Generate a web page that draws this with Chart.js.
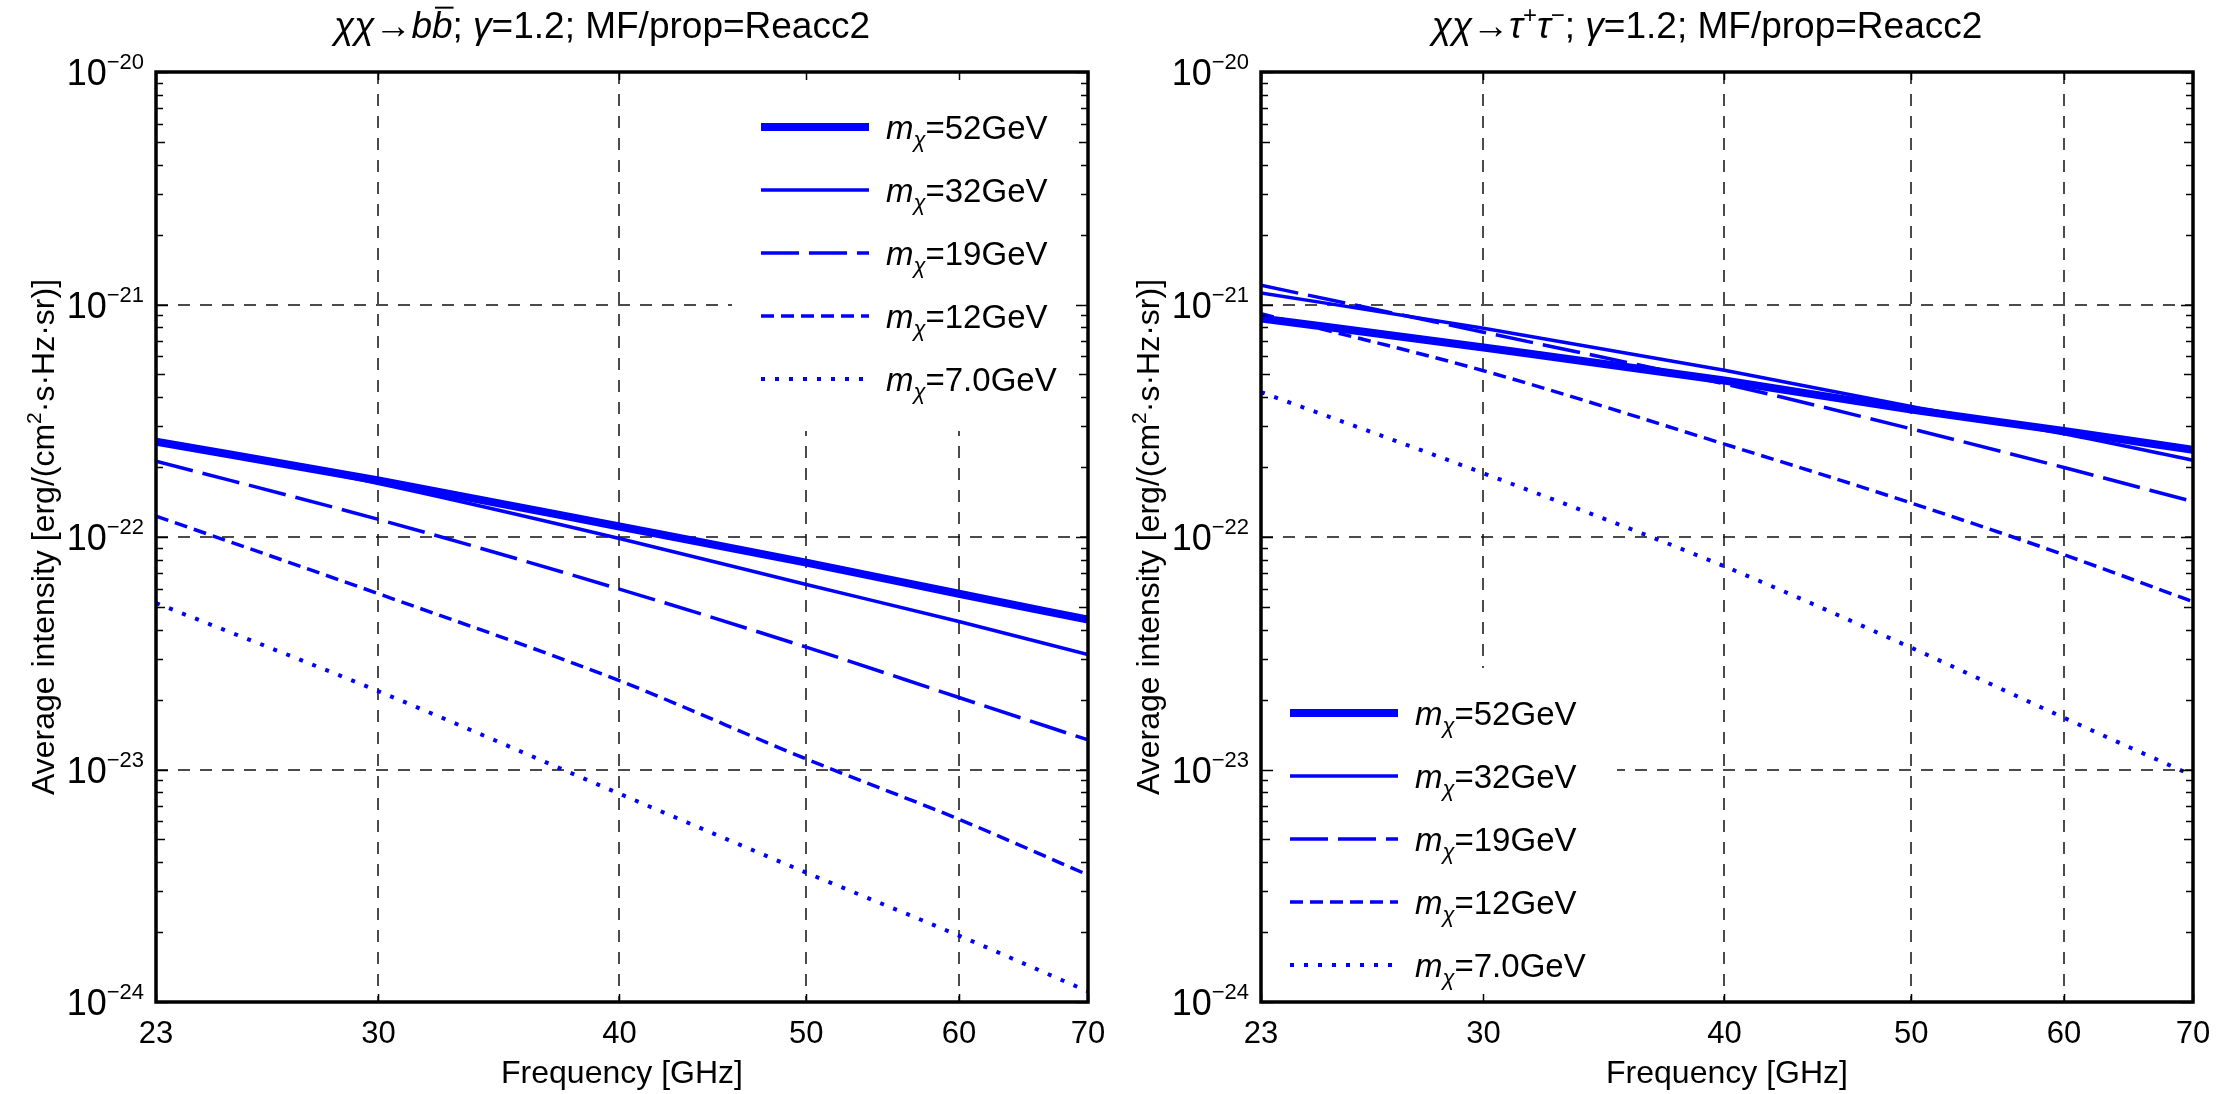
<!DOCTYPE html>
<html><head><meta charset="utf-8">
<script src="https://cdn.jsdelivr.net/npm/chart.js@4.4.1/dist/chart.umd.min.js"></script>
<style>
html,body{margin:0;padding:0;background:#fff;overflow:hidden;}
#wrap{position:relative;width:2225px;height:1094px;background:#fff;}
.pane{position:absolute;top:0;height:1094px;}
#p1{left:0;width:1112px;}
#p2{left:1112px;width:1113px;}
</style></head><body>
<div id="wrap">
  <div class="pane" id="p1"><canvas id="c1" width="1112" height="1094"></canvas></div>
  <div class="pane" id="p2"><canvas id="c2" width="1113" height="1094"></canvas></div>
</div>
<script>
// ---------------- data ----------------
const freqGHz = [23, 30, 40, 50, 60, 70];
const xTickValues = [23, 30, 40, 50, 60, 70];
const yTickDecades = [1e-24, 1e-23, 1e-22, 1e-21, 1e-20];
const yTickExponents = ['\u221224', '\u221223', '\u221222', '\u221221', '\u221220'];
const massLabels = ['52GeV', '32GeV', '19GeV', '12GeV', '7.0GeV'];

// chi chi -> b bbar
const bb_m52 = [2.57e-22, 1.75e-22, 1.11e-22, 7.76e-23, 5.70e-23, 4.41e-23];
const bb_m32 = [2.61e-22, 1.70e-22, 9.86e-23, 6.25e-23, 4.33e-23, 3.12e-23];
const bb_m19 = [2.12e-22, 1.19e-22, 5.97e-23, 3.36e-23, 2.04e-23, 1.34e-23];
const bb_m12 = [1.23e-22, 5.70e-23, 2.41e-23, 1.11e-23, 6.11e-24, 3.52e-24];
const bb_m7  = [5.20e-23, 2.17e-23, 7.87e-24, 3.60e-24, 1.93e-24, 1.11e-24];

// chi chi -> tau+ tau-
const tau_m52 = [8.71e-22, 6.53e-22, 4.71e-22, 3.53e-22, 2.86e-22, 2.37e-22];
const tau_m32 = [1.12e-21, 7.91e-22, 5.21e-22, 3.64e-22, 2.78e-22, 2.14e-22];
const tau_m19 = [1.21e-21, 7.60e-22, 4.56e-22, 2.92e-22, 1.99e-22, 1.42e-22];
const tau_m12 = [9.12e-22, 5.19e-22, 2.51e-22, 1.40e-22, 8.39e-23, 5.27e-23];
const tau_m7  = [4.20e-22, 1.88e-22, 7.48e-23, 3.34e-23, 1.67e-23, 9.40e-24];

// ---------------- styles ----------------
const FONT = '"Liberation Sans", Arial, sans-serif';
const BLUE = '#0000ff';
const lineStyles = [
  { w: 8,   dash: [] },
  { w: 3.5, dash: [] },
  { w: 3.5, dash: [38, 10] },
  { w: 3.5, dash: [13, 7] },
  { w: 4,   dash: [4, 10] }
];

function drawRich(ctx, segs, x, y, align) {
  let total = 0;
  segs.forEach(s => {
    ctx.font = (s.italic ? 'italic ' : '') + s.size + 'px ' + FONT;
    s._w = ctx.measureText(s.t).width;
    total += s._w;
  });
  let cx = align === 'center' ? x - total / 2 : (align === 'right' ? x - total : x);
  ctx.textAlign = 'left';
  ctx.textBaseline = 'alphabetic';
  segs.forEach(s => {
    ctx.font = (s.italic ? 'italic ' : '') + s.size + 'px ' + FONT;
    ctx.fillText(s.t, cx, y + (s.dy || 0));
    if (s.over) {
      ctx.save();
      ctx.lineWidth = 2;
      ctx.beginPath();
      ctx.moveTo(cx + 3, y - s.size * 0.82);
      ctx.lineTo(cx + s._w + 1, y - s.size * 0.82);
      ctx.stroke();
      ctx.restore();
    }
    cx += s._w;
  });
  return total;
}

function panelPlugin(cfg) {
  return {
    id: 'panel_' + cfg.id,
    beforeDatasetsDraw(chart) {
      const ctx = chart.ctx, a = chart.chartArea, xs = chart.scales.x, ys = chart.scales.y;
      ctx.save();
      ctx.strokeStyle = '#111';
      ctx.lineWidth = 1.5;
      ctx.setLineDash([12, 10]);
      xTickValues.slice(1, -1).forEach(v => {
        const px = Math.round(xs.getPixelForValue(v));
        ctx.beginPath(); ctx.moveTo(px, a.top); ctx.lineTo(px, a.bottom); ctx.stroke();
      });
      yTickDecades.slice(1, -1).forEach(v => {
        const py = Math.round(ys.getPixelForValue(v));
        ctx.beginPath(); ctx.moveTo(a.left, py); ctx.lineTo(a.right, py); ctx.stroke();
      });
      ctx.setLineDash([]);
      const b = cfg.legendBox(a);
      ctx.fillStyle = '#fff';
      ctx.fillRect(b.x, b.y, b.w, b.h);
      ctx.restore();
    },
    afterDatasetsDraw(chart) {
      const ctx = chart.ctx, a = chart.chartArea, xs = chart.scales.x, ys = chart.scales.y;
      ctx.save();
      ctx.fillStyle = '#000';
      ctx.strokeStyle = '#000';
      ctx.lineWidth = 3.5;
      ctx.strokeRect(a.left, a.top, a.right - a.left, a.bottom - a.top);
      ctx.lineWidth = 1.5;
      yTickDecades.forEach(d => {
        for (let m = 1; m <= 9; m++) {
          const v = d * m;
          if (v > yTickDecades[yTickDecades.length - 1] * 1.0001) break;
          const py = Math.round(ys.getPixelForValue(v)) + 0.5;
          const len = m === 1 ? 12 : (m === 5 ? 9 : 7);
          ctx.beginPath();
          ctx.moveTo(a.left, py); ctx.lineTo(a.left + len, py);
          ctx.moveTo(a.right, py); ctx.lineTo(a.right - len, py);
          ctx.stroke();
        }
      });
      xTickValues.forEach(v => {
        const px = Math.round(xs.getPixelForValue(v)) + 0.5;
        ctx.beginPath();
        ctx.moveTo(px, a.bottom); ctx.lineTo(px, a.bottom - 8);
        ctx.moveTo(px, a.top); ctx.lineTo(px, a.top + 8);
        ctx.stroke();
      });
      xTickValues.forEach(v => {
        const px = xs.getPixelForValue(v);
        drawRich(ctx, [{ t: String(v), size: 31 }], px, a.bottom + 41, 'center');
      });
      yTickDecades.forEach((d, i) => {
        const py = ys.getPixelForValue(d);
        drawRich(ctx, [{ t: '10', size: 36 }, { t: yTickExponents[i], size: 22, dy: -16 }], a.left - 12, py + 13, 'right');
      });
      drawRich(ctx, [{ t: 'Frequency [GHz]', size: 32 }], (a.left + a.right) / 2, a.bottom + 81, 'center');
      ctx.save();
      ctx.translate(a.left - 113, (a.top + a.bottom) / 2);
      ctx.rotate(-Math.PI / 2);
      drawRich(ctx, [
        { t: 'Average intensity [erg/(cm', size: 32 },
        { t: '2', size: 21, dy: -13 },
        { t: '\u00b7s\u00b7Hz\u00b7sr)]', size: 32 }
      ], 0, 11, 'center');
      ctx.restore();
      drawRich(ctx, cfg.title, (a.left + a.right) / 2 - 20, 38, 'center');
      const b = cfg.legendBox(a);
      chart.data.datasets.forEach((ds, i) => {
        const ry = cfg.legendRow0(a) + i * 63;
        ctx.save();
        ctx.strokeStyle = ds.borderColor;
        ctx.lineWidth = ds.borderWidth;
        ctx.setLineDash(ds.borderDash || []);
        ctx.lineCap = 'butt';
        ctx.beginPath();
        ctx.moveTo(b.x + 29, ry); ctx.lineTo(b.x + 137, ry);
        ctx.stroke();
        ctx.restore();
        drawRich(ctx, [
          { t: 'm', size: 33, italic: true },
          { t: '\u03c7', size: 22, italic: true, dy: 8 },
          { t: '=' + massLabels[i], size: 33 }
        ], b.x + 154, ry + 12, 'left');
      });
      ctx.restore();
    }
  };
}

function makeChart(canvasId, series, cfg) {
  return new Chart(document.getElementById(canvasId), {
    type: 'line',
    data: {
      datasets: series.map((s, i) => ({
        label: massLabels[i],
        data: freqGHz.map((f, j) => ({ x: f, y: s[j] })),
        borderColor: BLUE,
        borderWidth: lineStyles[i].w,
        borderDash: lineStyles[i].dash,
        borderCapStyle: 'butt',
        pointRadius: 0,
        fill: false,
        cubicInterpolationMode: 'monotone'
      }))
    },
    options: {
      responsive: false,
      animation: false,
      devicePixelRatio: 1,
      layout: { padding: cfg.padding },
      plugins: { legend: { display: false }, title: { display: false }, tooltip: { enabled: false } },
      scales: {
        x: { type: 'logarithmic', min: 23, max: 70, display: false,
             afterBuildTicks: s => { s.ticks = xTickValues.map(v => ({ value: v })); } },
        y: { type: 'logarithmic', min: 1e-24, max: 1e-20, display: false }
      }
    },
    plugins: [panelPlugin(cfg)]
  });
}

const TS = 37, TSS = 24;
makeChart('c1', [bb_m52, bb_m32, bb_m19, bb_m12, bb_m7], {
  id: 'bb',
  padding: { left: 156, top: 72, right: 24, bottom: 92 },
  title: [
    { t: '\u03c7\u03c7', size: TS, italic: true },
    { t: '\u2192', size: TS },
    { t: 'b', size: TS, italic: true },
    { t: 'b', size: TS, italic: true, over: true },
    { t: '; ', size: TS },
    { t: '\u03b3', size: TS, italic: true },
    { t: '=1.2; MF/prop=Reacc2', size: TS }
  ],
  legendBox: a => ({ x: a.right - 356, y: a.top, w: 356, h: 359 }),
  legendRow0: a => a.top + 55
});

makeChart('c2', [tau_m52, tau_m32, tau_m19, tau_m12, tau_m7], {
  id: 'tau',
  padding: { left: 149, top: 72, right: 32, bottom: 92 },
  title: [
    { t: '\u03c7\u03c7', size: TS, italic: true },
    { t: '\u2192', size: TS },
    { t: '\u03c4', size: TS, italic: true },
    { t: '+', size: TSS, dy: -15 },
    { t: '\u03c4', size: TS, italic: true },
    { t: '\u2212', size: TSS, dy: -15 },
    { t: '; ', size: TS },
    { t: '\u03b3', size: TS, italic: true },
    { t: '=1.2; MF/prop=Reacc2', size: TS }
  ],
  legendBox: a => ({ x: a.left, y: a.bottom - 334, w: 356, h: 334 }),
  legendRow0: a => a.bottom - 289
});
</script>
</body></html>
